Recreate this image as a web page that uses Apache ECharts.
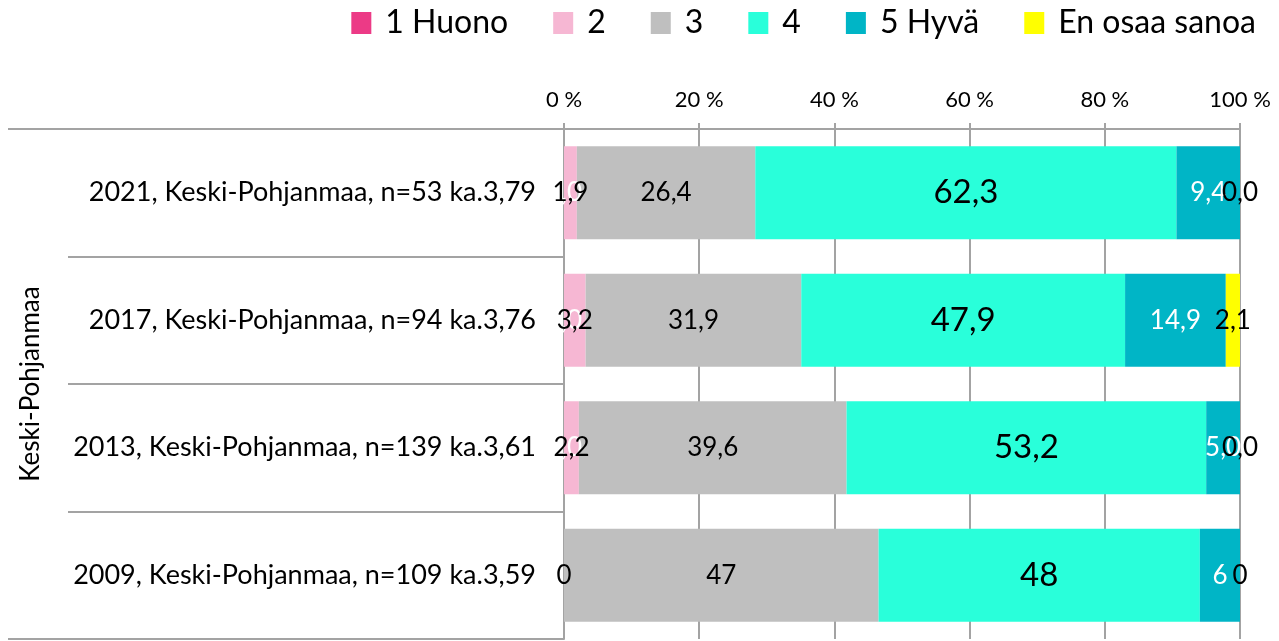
<!DOCTYPE html>
<html>
<head>
<meta charset="utf-8">
<style>
    html, body { margin: 0; padding: 0; background: #fff; }
    #chart { width: 1279px; height: 641px; }
</style>
</head>
<body>
<div id="chart"></div>
<script src="https://cdn.jsdelivr.net/npm/echarts@6/dist/echarts.min.js"></script>
<script>
    // data (raw values, rows are normalised to 100 %)
    var categories = [
        '2021, Keski-Pohjanmaa, n=53 ka.3,79',
        '2017, Keski-Pohjanmaa, n=94 ka.3,76',
        '2013, Keski-Pohjanmaa, n=139 ka.3,61',
        '2009, Keski-Pohjanmaa, n=109 ka.3,59'
    ];
    var groupName = 'Keski-Pohjanmaa';
    var rowDecimals = [1, 1, 1, 0];
    var seriesNames = ['1 Huono', '2', '3', '4', '5 Hyvä', 'En osaa sanoa'];
    var huono = [0.0, 0.0, 0.0, 0];
    var kaksi = [1.9, 3.2, 2.2, 0];
    var kolme = [26.4, 31.9, 39.6, 47];
    var nelja = [62.3, 47.9, 53.2, 48];
    var hyva = [9.4, 14.9, 5.0, 6];
    var eos = [0.0, 2.1, 0.0, 0];
    var xTicks = [0, 20, 40, 60, 80, 100];

    var FONT = 'Lato';
    var GRAY = '#a3a3a3';
    var colors = ['#ec3a86', '#f6b7d3', '#bfbfbf', '#29ffda', '#00b5c6', '#ffff00'];
    var labelColors = ['#fff', '#000', '#000', '#000', '#fff', '#000'];
    var labelSizes = [26, 26, 26, 33, 26, 26];

    var raw = [huono, kaksi, kolme, nelja, hyva, eos];
    var totals = categories.map(function (c, i) {
        var s = 0;
        raw.forEach(function (arr) { s += arr[i]; });
        return s;
    });

    function fmt(v, d) {
        return v.toFixed(d).replace('.', ',');
    }

    var series = raw.map(function (arr, k) {
        return {
            name: seriesNames[k],
            type: 'bar',
            stack: 'total',
            yAxisIndex: 0,
            barWidth: '73%',
            itemStyle: { color: colors[k] },
            label: {
                show: true,
                position: 'inside',
                color: labelColors[k],
                fontFamily: FONT,
                fontSize: labelSizes[k],
                formatter: function (p) {
                    return fmt(arr[p.dataIndex], rowDecimals[p.dataIndex]);
                }
            },
            data: arr.map(function (v, i) { return v / totals[i] * 100; })
        };
    });

    var option = {
        animation: false,
        textStyle: { fontFamily: FONT },
        legend: {
            top: 2,
            right: 18,
            icon: 'rect',
            itemWidth: 20,
            itemHeight: 22,
            itemGap: 45,
            data: seriesNames,
            textStyle: { fontFamily: FONT, fontSize: 32, color: '#000', padding: [0, 0, 0, 9] }
        },
        grid: { left: 564, right: 39, top: 129, bottom: 2 },
        xAxis: {
            type: 'value',
            position: 'top',
            min: xTicks[0],
            max: xTicks[xTicks.length - 1],
            interval: xTicks[1] - xTicks[0],
            axisLine: { show: true, lineStyle: { color: GRAY, width: 2 } },
            axisTick: { show: true, length: 6, lineStyle: { color: GRAY, width: 2 } },
            splitLine: { show: true, lineStyle: { color: GRAY, width: 2 } },
            axisLabel: {
                color: '#000',
                fontFamily: FONT,
                fontSize: 22,
                margin: 18,
                formatter: '{value} %'
            }
        },
        yAxis: [
            {
                type: 'category',
                inverse: true,
                position: 'left',
                data: categories,
                axisLine: { show: true, lineStyle: { color: GRAY, width: 2 } },
                axisTick: { show: true, length: 496, lineStyle: { color: GRAY, width: 2 } },
                axisLabel: { color: '#000', fontFamily: FONT, fontSize: 27, margin: 28 }
            },
            {
                type: 'category',
                position: 'left',
                data: [groupName],
                axisLine: { show: false },
                axisLabel: { show: false },
                axisTick: { show: true, length: 556, lineStyle: { color: GRAY, width: 2 } },
                name: groupName,
                nameLocation: 'middle',
                nameRotate: 90,
                nameGap: 520,
                nameTextStyle: { color: '#000', fontFamily: FONT, fontSize: 26 }
            }
        ],
        series: series
    };

    var chart = echarts.init(document.getElementById('chart'));
    chart.setOption(option);
</script>
</body>
</html>
